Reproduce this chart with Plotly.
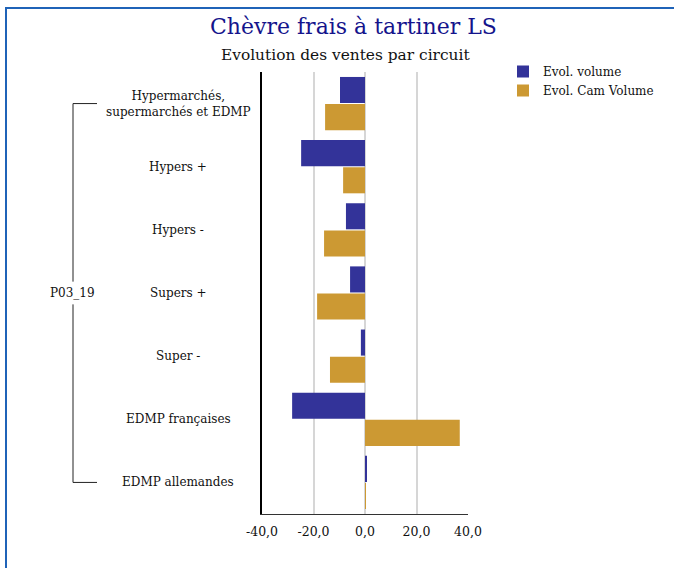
import plotly.graph_objects as go

categories = [
    "Hypermarchés,<br>supermarchés et EDMP",
    "Hypers +",
    "Hypers -",
    "Supers +",
    "Super -",
    "EDMP françaises",
    "EDMP allemandes",
]
cat_keys = ["HSE", "Hypers +", "Hypers -", "Supers +", "Super -", "EDMP françaises", "EDMP allemandes"]
evol_volume = [-9.7, -24.8, -7.4, -5.8, -1.6, -28.3, 0.4]
evol_cam_volume = [-15.5, -8.5, -15.9, -18.6, -13.6, 36.8, 0.3]
series_names = ["Evol. volume", "Evol. Cam Volume"]
series_colors = ["#333399", "#CC9933"]
x_ticks = [-40, -20, 0, 20, 40]
x_tick_labels = ["-40,0", "-20,0", "0,0", "20,0", "40,0"]
group_label = "P03_19"
title = "Chèvre frais à tartiner LS"
subtitle = "Evolution des ventes par circuit"

FONT = "DejaVu Serif"

fig = go.Figure()
for name, vals, col in zip(series_names, [evol_volume, evol_cam_volume], series_colors):
    fig.add_trace(go.Bar(y=cat_keys, x=vals, name=name, orientation="h",
                         marker=dict(color=col, line=dict(width=0))))

W, H = 674, 568
L, R, T, B = 262, 206, 72, 54
pw, ph = W - L - R, H - T - B

def px_x(p):
    return (p - L) / pw

def px_y(p):
    return (H - B - p) / ph

annotations = []
for key, lab in zip(cat_keys, categories):
    annotations.append(dict(x=px_x(178), xref="paper", y=key, yref="y", text=lab,
                            showarrow=False, xanchor="center", yanchor="middle",
                            font=dict(family=FONT, size=12, color="#111111")))
annotations.append(dict(x=px_x(72), xref="paper", y=3, yref="y", text=group_label,
                        showarrow=False, xanchor="center", yanchor="middle",
                        font=dict(family=FONT, size=12, color="#111111")))
annotations.append(dict(x=px_x(353.5), xref="paper", y=px_y(27), yref="paper", text=title,
                        showarrow=False, xanchor="center", yanchor="middle",
                        font=dict(family=FONT, size=22, color="#14148c")))
annotations.append(dict(x=px_x(345.5), xref="paper", y=px_y(55), yref="paper", text=subtitle,
                        showarrow=False, xanchor="center", yanchor="middle",
                        font=dict(family=FONT, size=15.4, color="#111111")))

line_k = dict(color="#222222", width=1)
shapes = [
    # bracket
    dict(type="line", xref="paper", yref="y", x0=px_x(73), x1=px_x(73), y0=0, y1=2.82, line=line_k),
    dict(type="line", xref="paper", yref="y", x0=px_x(73), x1=px_x(73), y0=3.18, y1=6, line=line_k),
    dict(type="line", xref="paper", yref="y", x0=px_x(73), x1=px_x(97), y0=0, y1=0, line=line_k),
    dict(type="line", xref="paper", yref="y", x0=px_x(73), x1=px_x(97), y0=6, y1=6, line=line_k),
    # frame
    dict(type="line", xref="paper", yref="paper", x0=px_x(5), x1=px_x(680), y0=px_y(8), y1=px_y(8),
         line=dict(color="#1f63b8", width=2)),
    dict(type="line", xref="paper", yref="paper", x0=px_x(6), x1=px_x(6), y0=px_y(7), y1=px_y(580),
         line=dict(color="#1f63b8", width=2)),
]

fig.update_layout(
    width=W, height=H,
    margin=dict(l=L, r=R, t=T, b=B, autoexpand=False),
    paper_bgcolor="white", plot_bgcolor="white",
    barmode="group", bargap=0.14, bargroupgap=0.04,
    font=dict(family=FONT, size=12, color="#111111"),
    showlegend=True,
    legend=dict(x=px_x(503), y=px_y(57), xanchor="left", yanchor="top",
                font=dict(family=FONT, size=12, color="#111111"),
                bgcolor="rgba(0,0,0,0)", traceorder="normal", itemclick=False),
    annotations=annotations,
    shapes=shapes,
    xaxis=dict(range=[-40, 40], tickvals=x_ticks, ticktext=x_tick_labels,
               showgrid=True, gridcolor="#d6d6d6", gridwidth=1.5,
               zeroline=False, showline=True, linecolor="#333333", linewidth=1,
               ticks="", ticklabelstandoff=6,
               tickfont=dict(family=FONT, size=12.5, color="#111111"), fixedrange=True),
    yaxis=dict(categoryorder="array", categoryarray=cat_keys, autorange="reversed",
               showticklabels=False, ticks="", showgrid=False, zeroline=False,
               showline=True, linecolor="#000000", linewidth=2, fixedrange=True),
)

fig.write_html("out.html", post_script="document.body.style.margin='0';",
               config={"displayModeBar": False})
